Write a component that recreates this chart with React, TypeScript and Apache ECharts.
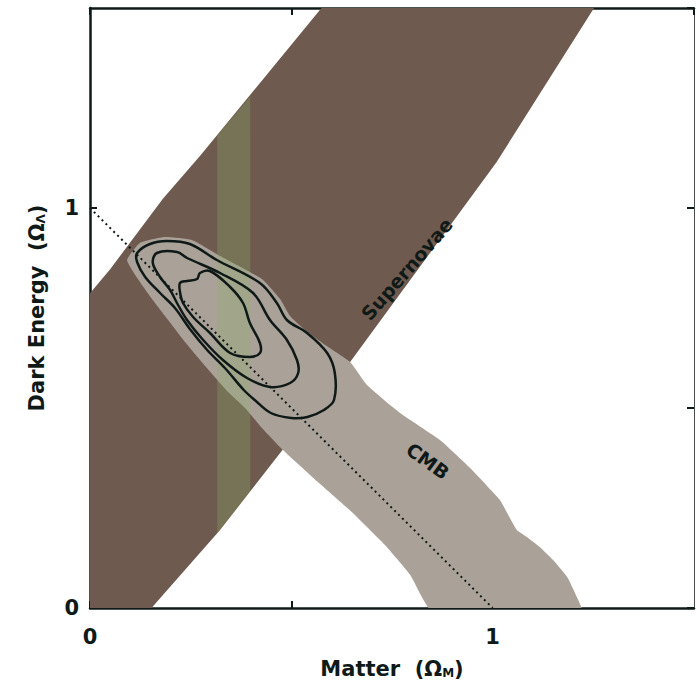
import React, { useEffect, useRef } from "react";
import * as echarts from "echarts";

// Ω_M, Ω_Λ vertices of the supernova confidence band (lower edge up, upper edge down)
const supernovaBand: [number, number][] = [
  [0.144, -0.01], [0.323, 0.195], [0.479, 0.396], [0.646, 0.615], [1.01, 1.115], [1.258, 1.51],
  [0.583, 1.51], [0.273, 1.13], [0.181, 1.023], [0.05, 0.847], [-0.01, 0.775], [-0.01, -0.01],
];

// CMB allowed region
const cmbRegion: [number, number][] = [
  [0.092, 0.87], [0.124, 0.9125], [0.186, 0.9275], [0.253, 0.92], [0.323, 0.88], [0.427, 0.8225],
  [0.472, 0.7725], [0.497, 0.73], [0.534, 0.695], [0.584, 0.6575], [0.646, 0.615], [0.688, 0.5575],
  [0.77, 0.4875], [0.869, 0.42], [0.944, 0.35], [1.018, 0.27], [1.036, 0.2375], [1.06, 0.195],
  [1.085, 0.1775], [1.117, 0.1525], [1.15, 0.12], [1.185, 0.0775], [1.209, 0.0275], [1.222, -0.01],
  [0.852, -0.01], [0.795, 0.083], [0.732, 0.158], [0.65, 0.24], [0.566, 0.315], [0.479, 0.395],
  [0.427, 0.45], [0.385, 0.5], [0.343, 0.54], [0.286, 0.605],
  [0.236, 0.665], [0.194, 0.72], [0.154, 0.7725], [0.119, 0.8225],
];

// cluster constraint strip on Ω_M, shown inside the supernova band
const clusterStrip: [number, number][] = [
  [0.316, 0.187], [0.398, 0.292], [0.398, 1.279], [0.316, 1.181],
];

// combined confidence contours (68%, 95%, 99%)
const contourInner: [number, number][] = [
  [0.2235, 0.8125], [0.241, 0.8175], [0.266, 0.8225], [0.273, 0.8375], [0.298, 0.8425],
  [0.348, 0.8025], [0.38, 0.7625], [0.397, 0.7125], [0.422, 0.6625], [0.422, 0.6375],
  [0.397, 0.6275], [0.348, 0.6375], [0.298, 0.6875], [0.256, 0.7275], [0.231, 0.7625], [0.2235, 0.79],
];
const contourMiddle: [number, number][] = [
  [0.156, 0.8625], [0.166, 0.8875], [0.216, 0.89], [0.241, 0.875], [0.323, 0.8375], [0.405, 0.7875],
  [0.447, 0.72], [0.489, 0.67], [0.514, 0.62], [0.517, 0.5875], [0.497, 0.5625], [0.447, 0.5525],
  [0.39, 0.575], [0.33, 0.62], [0.281, 0.67], [0.241, 0.72], [0.216, 0.7625], [0.199, 0.795], [0.174, 0.8275],
];
const contourOuter: [number, number][] = [
  [0.117, 0.8875], [0.149, 0.91], [0.191, 0.9175], [0.248, 0.91], [0.315, 0.87], [0.422, 0.8125],
  [0.464, 0.7625], [0.489, 0.72], [0.539, 0.6875], [0.589, 0.6375], [0.608, 0.5875], [0.606, 0.52],
  [0.581, 0.495], [0.54, 0.4775], [0.5, 0.475], [0.449, 0.4875], [0.409, 0.52], [0.382, 0.545],
  [0.335, 0.6], [0.291, 0.645], [0.248, 0.6975], [0.211, 0.75], [0.174, 0.7875], [0.137, 0.8275], [0.117, 0.865],
];

// flat universe: Ω_M + Ω_Λ = 1
const flatLine: [number, number][] = [[0, 1], [1, 0]];

const labeledTicks = [0, 1];

const supernovaLabel = { text: "Supernovae", at: [0.787, 0.8475] as [number, number], angle: 49 };
const cmbLabel = { text: "CMB", at: [0.839, 0.3675] as [number, number], angle: -36 };

const INK = "#0f1a18";
const FONT = "DejaVu Sans";

function polygonSeries(pts: [number, number][], style: any, smooth = 0) {
  return {
    type: "custom",
    silent: true,
    clip: true,
    data: [[0, 0]],
    renderItem: (_p: any, api: any) => ({
      type: "polygon",
      shape: { points: pts.map((p) => api.coord(p)), smooth },
      style,
    }),
  };
}

function labelSeries(l: { text: string; at: [number, number]; angle: number }) {
  return {
    type: "custom",
    silent: true,
    data: [[0, 0]],
    renderItem: (_p: any, api: any) => {
      const [x, y] = api.coord(l.at);
      return {
        type: "text",
        x,
        y,
        rotation: (l.angle * Math.PI) / 180,
        style: {
          text: l.text,
          fill: INK,
          fontSize: 19,
          fontWeight: "bold",
          fontFamily: FONT,
          align: "center",
          verticalAlign: "middle",
        },
      };
    },
  };
}

export default function App() {
  const ref = useRef<HTMLDivElement>(null);

  useEffect(() => {
    if (!ref.current) return;
    const chart = echarts.init(ref.current, undefined, { renderer: "svg" });

    const axisCommon = {
      type: "value",
      min: 0,
      max: 1.5,
      interval: 0.5,
      splitLine: { show: false },
      axisTick: { show: true, inside: true, length: 7, lineStyle: { color: INK, width: 2 } },
    };
    const labelStyle = {
      fontSize: 21,
      fontWeight: "bold",
      fontFamily: FONT,
      color: INK,
      showMaxLabel: false,
      formatter: (v: number) => (labeledTicks.includes(v) ? String(v) : ""),
    };
    const nameStyle = {
      fontSize: 21,
      fontWeight: "bold",
      fontFamily: FONT,
      color: INK,
      rich: {
        s: { fontSize: 12, fontWeight: "bold", fontFamily: FONT, color: INK, verticalAlign: "bottom", lineHeight: 12 },
      },
    };
    const line = (color: string, width: number) => ({ show: true, onZero: false, lineStyle: { color, width } });

    chart.setOption({
      animation: false,
      backgroundColor: "#ffffff",
      grid: { left: 90, top: 8, width: 604, height: 600, containLabel: false },
      xAxis: [
        {
          ...axisCommon,
          position: "bottom",
          axisLine: line(INK, 2.5),
          axisLabel: { ...labelStyle, margin: 18 },
          name: "Matter  (Ω{s|M})",
          nameLocation: "middle",
          nameGap: 50,
          nameTextStyle: nameStyle,
        },
        {
          ...axisCommon,
          position: "top",
          axisLine: line(INK, 2.5),
          axisLabel: { show: false },
        },
      ],
      yAxis: [
        {
          ...axisCommon,
          position: "left",
          axisLine: line(INK, 2.5),
          axisLabel: { ...labelStyle, margin: 11 },
          name: "Dark Energy  (Ω{s|Λ})",
          nameLocation: "middle",
          nameGap: 43,
          nameTextStyle: nameStyle,
        },
        {
          ...axisCommon,
          position: "right",
          axisLine: line("#4a4f4d", 1),
          axisLabel: { show: false },
        },
      ],
      series: [
        polygonSeries(supernovaBand, { fill: "#6f5a50" }),
        polygonSeries(cmbRegion, { fill: "#aaa198" }, 0.15),
        polygonSeries(clusterStrip, { fill: "rgba(140,178,105,0.28)" }),
        polygonSeries(contourOuter, { fill: "none", stroke: INK, lineWidth: 2.5 }, 0.35),
        polygonSeries(contourMiddle, { fill: "none", stroke: INK, lineWidth: 2.5 }, 0.35),
        polygonSeries(contourInner, { fill: "none", stroke: INK, lineWidth: 2.5 }, 0.35),
        {
          type: "line",
          data: flatLine,
          symbol: "none",
          silent: true,
          lineStyle: { color: INK, width: 2, type: [2, 3.5] },
        },
        labelSeries(supernovaLabel),
        labelSeries(cmbLabel),
      ],
    });

    return () => chart.dispose();
  }, []);

  return (
    <div
      ref={ref}
      style={{ position: "fixed", left: 0, top: 0, width: 697, height: 686, background: "#fff" }}
    />
  );
}
